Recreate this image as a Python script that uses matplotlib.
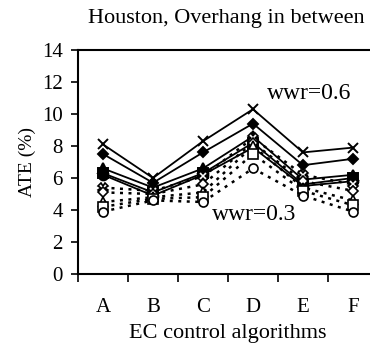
import matplotlib
matplotlib.use("Agg")
import matplotlib.pyplot as plt
import numpy as np

categories = ["A", "B", "C", "D", "E", "F"]

# wwr = 0.6 series (solid lines)
s_x   = [8.1, 6.0, 8.3, 10.3, 7.6, 7.9]
s_dia = [7.5, 5.7, 7.6, 9.4, 6.8, 7.2]
s_tri = [6.6, 5.4, 6.6, 8.6, 5.9, 6.2]
s_sq  = [6.3, 5.1, 6.3, 8.2, 5.6, 6.0]
s_cir = [6.2, 4.9, 6.2, 7.9, 5.5, 5.8]

# wwr = 0.3 series (dotted lines)
d_x   = [5.4, 5.2, 6.1, 8.5, 6.2, 5.6]
d_dia = [5.1, 5.0, 5.6, 8.2, 5.8, 5.2]
d_tri = [4.5, 4.8, 5.1, 8.0, 5.4, 4.6]
d_sq  = [4.2, 4.7, 4.8, 7.5, 5.2, 4.3]
d_cir = [3.9, 4.6, 4.5, 6.6, 4.9, 3.9]

yticks = [0, 2, 4, 6, 8, 10, 12, 14]

plt.rcParams['font.family'] = ['Liberation Serif', 'DejaVu Serif']

fig = plt.figure(figsize=(3.7, 3.45), dpi=100)
ax = fig.add_axes([78/370, 1-274/345, 300/370, 224/345])

x = np.arange(len(categories))

solid = [(s_x, 'x'), (s_dia, 'D'), (s_tri, '^'), (s_sq, 's'), (s_cir, 'o')]
for vals, m in solid:
    ax.plot(x, vals, color='black', lw=1.3, marker=m, markersize=7 if m != 'D' else 5.5,
            markerfacecolor='black', markeredgecolor='black', markeredgewidth=1.4)

dotted = [(d_x, 'X'), (d_dia, 'D'), (d_tri, '^'), (d_sq, 's'), (d_cir, 'o')]
for vals, m in dotted:
    ax.plot(x, vals, color='black', lw=1.8, ls=(0, (1.2, 2.2)), marker=m,
            markersize=6.5 if m != 'D' else 5,
            markerfacecolor='white', markeredgecolor='black', markeredgewidth=1.2)

ax.set_xlim(-0.5, len(categories) - 0.5)
ax.set_ylim(0, 14)
ax.set_yticks(yticks)
ax.set_xticks(x)
ax.set_xticklabels(categories)
ax.set_xticks(np.arange(-0.5, len(categories), 1.0), minor=True)
ax.tick_params(axis='x', which='major', length=0, pad=17, labelsize=15)
ax.tick_params(axis='x', which='minor', length=6, width=1.2, direction='out')
ax.tick_params(axis='y', length=5, width=1.2, direction='out', labelsize=15, pad=6)

for sp in ax.spines.values():
    sp.set_linewidth(1.5)

ax.set_xlabel("EC control algorithms", fontsize=16, labelpad=5)
ax.set_ylabel("ATE (%)", fontsize=14, labelpad=4)
fig.text(226/370, 1-18/345, "Houston, Overhang in between", ha='center', va='center', fontsize=16)

ax.text(4.12, 11.3, "wwr=0.6", fontsize=17, ha='center', va='center')
ax.text(3.02, 3.7, "wwr=0.3", fontsize=17, ha='center', va='center')

fig.savefig("out.png", dpi=100)
